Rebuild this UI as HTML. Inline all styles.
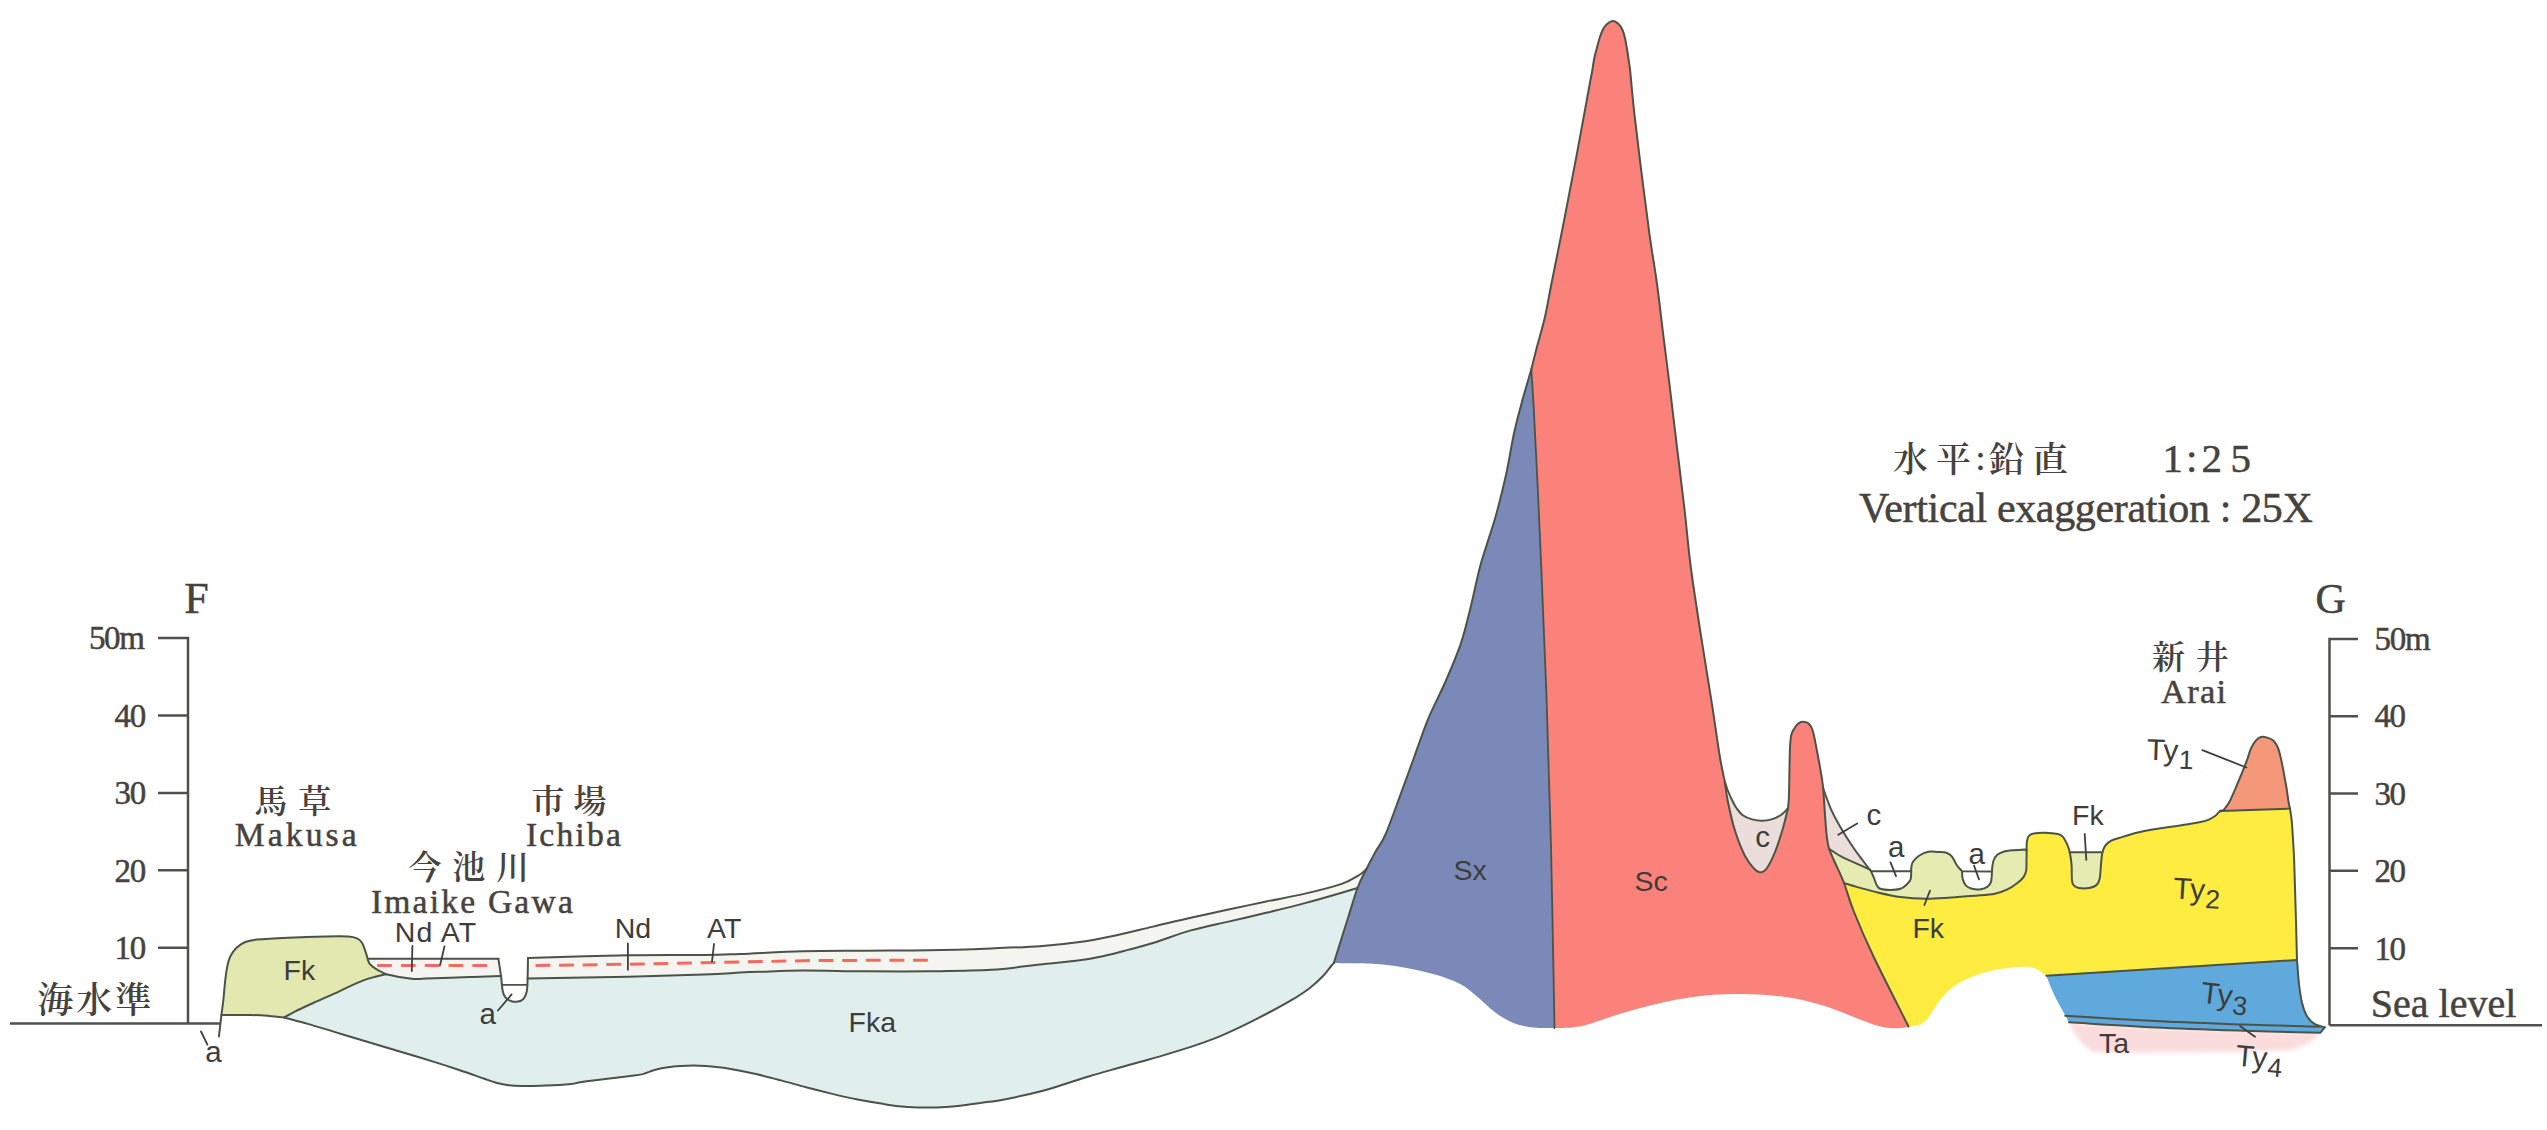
<!DOCTYPE html>
<html lang="ja"><head><meta charset="utf-8"><title>Geological cross-section F–G</title>
<style>html,body{margin:0;padding:0;background:#fff}svg{display:block}</style></head>
<body><svg width="2547" height="1130" viewBox="0 0 2547 1130">
<rect width="2547" height="1130" fill="#fff"/>
<path d="M284.2 1017.5C285.9 1016.6 289.5 1014.3 294.3 1011.9C299.1 1009.5 305.8 1006.4 313.1 1003.0C320.4 999.6 329.9 995.6 338.3 991.8C346.7 988.0 355.4 983.3 363.4 980.4C371.3 977.5 382.2 975.2 386.0 974.2C388.5 974.7 396.4 976.5 401.0 977.3C405.6 978.1 409.5 978.7 413.7 978.9C417.9 979.1 416.8 978.9 426.2 978.6C435.6 978.3 457.5 977.4 470.0 977.0C482.5 976.6 495.8 976.2 501.0 976.0L527.6 978.6C544.4 978.3 599.1 977.4 628.5 976.7C657.9 976.0 685.4 975.3 704.0 974.6C722.6 973.9 730.7 973.1 740.0 972.6C749.3 972.1 749.5 972.1 760.0 971.8C770.5 971.5 785.2 970.7 802.8 970.6C820.4 970.5 844.8 971.2 865.7 971.3C886.7 971.4 907.5 971.5 928.5 971.3C949.5 971.0 972.8 970.9 991.4 969.8C1010.0 968.7 1025.6 966.0 1040.0 964.5C1054.4 963.0 1067.2 962.0 1077.7 960.6C1088.2 959.2 1094.4 958.0 1102.8 956.2C1111.2 954.4 1119.6 952.1 1128.0 949.9C1136.4 947.7 1142.5 946.2 1153.0 943.0C1163.5 939.8 1178.2 934.0 1190.8 930.4C1203.4 926.8 1215.9 924.5 1228.5 921.6C1241.1 918.7 1253.6 915.8 1266.2 912.8C1278.8 909.8 1291.4 906.8 1304.0 903.4C1316.6 900.0 1332.8 895.3 1341.7 892.7C1350.6 890.1 1354.9 888.8 1357.5 888.0C1355.9 893.0 1351.7 906.3 1348.0 918.0C1344.3 929.7 1337.7 950.5 1335.4 958.0C1333.1 965.5 1334.2 962.2 1334.0 963.0C1333.6 963.4 1333.5 963.3 1331.6 965.5C1329.7 967.7 1326.4 972.6 1322.8 976.3C1319.2 980.0 1315.4 983.7 1310.2 987.7C1305.0 991.7 1298.7 995.8 1291.4 1000.2C1284.1 1004.6 1274.6 1009.6 1266.2 1014.0C1257.8 1018.4 1249.5 1022.6 1241.1 1026.6C1232.7 1030.6 1224.4 1034.5 1216.0 1037.9C1207.6 1041.3 1199.2 1044.1 1190.8 1046.9C1182.4 1049.7 1174.1 1052.1 1165.7 1054.6C1157.3 1057.1 1149.0 1059.4 1140.6 1061.8C1132.2 1064.2 1123.8 1066.4 1115.4 1068.8C1107.0 1071.2 1098.7 1073.5 1090.3 1076.0C1081.9 1078.5 1073.5 1081.4 1065.1 1084.0C1056.7 1086.6 1049.9 1089.0 1040.0 1091.5C1030.1 1094.0 1015.5 1097.3 1005.6 1099.2C995.7 1101.1 988.9 1101.8 980.5 1103.0C972.1 1104.2 962.7 1105.5 955.4 1106.2C948.1 1106.9 942.8 1107.2 936.5 1107.4C930.2 1107.6 924.0 1107.6 917.7 1107.4C911.4 1107.2 904.8 1106.8 898.8 1106.2C892.8 1105.6 888.6 1104.8 881.5 1103.6C874.4 1102.4 864.8 1100.9 856.4 1099.2C848.0 1097.5 839.7 1095.6 831.3 1093.6C822.9 1091.6 814.5 1089.5 806.1 1087.3C797.7 1085.1 789.4 1082.6 781.0 1080.4C772.6 1078.2 764.3 1076.0 755.9 1074.1C747.5 1072.2 737.1 1070.2 730.8 1069.1C724.5 1067.9 722.4 1067.7 718.2 1067.2C714.0 1066.7 709.8 1066.3 705.6 1066.0C701.4 1065.7 697.2 1065.6 693.0 1065.6C688.8 1065.6 684.7 1065.7 680.5 1066.0C676.3 1066.3 672.2 1066.6 668.0 1067.2C663.8 1067.8 659.6 1068.6 655.4 1069.7C651.2 1070.8 647.0 1073.0 642.8 1074.1C638.6 1075.1 636.6 1075.2 630.3 1076.0C624.0 1076.8 613.5 1078.0 605.1 1079.1C596.7 1080.1 585.6 1081.5 580.0 1082.3C574.4 1083.1 577.1 1083.4 571.5 1083.9C565.9 1084.4 554.8 1085.1 546.4 1085.4C538.0 1085.8 527.6 1086.0 521.3 1086.0C515.0 1086.0 512.9 1085.8 508.7 1085.2C504.5 1084.7 500.3 1083.8 496.1 1082.7C491.9 1081.6 489.9 1080.7 483.6 1078.5C477.3 1076.3 466.8 1072.5 458.4 1069.7C450.0 1066.9 441.7 1064.2 433.3 1061.6C424.9 1059.0 416.6 1056.5 408.2 1054.0C399.8 1051.5 391.4 1049.0 383.0 1046.5C374.6 1044.0 366.4 1041.5 358.0 1039.0C349.6 1036.5 341.2 1033.9 332.8 1031.4C324.4 1028.9 315.8 1026.2 307.7 1023.9C299.6 1021.6 288.1 1018.6 284.2 1017.5Z" fill="#e0efee" stroke="none" stroke-width="2.0" stroke-linejoin="round" stroke-linecap="round" />
<path d="M368.4 958.7C390.1 958.7 471.8 958.8 498.4 958.7C525.0 958.6 523.1 958.1 528.0 958.0C544.8 957.5 599.2 955.8 628.5 955.3C657.8 954.8 685.4 955.2 704.0 955.0C722.6 954.8 723.5 954.6 740.0 954.0C756.5 953.4 781.8 951.8 802.8 951.3C823.8 950.8 844.8 950.9 865.7 950.7C886.7 950.5 907.5 950.7 928.5 950.3C949.5 949.9 972.8 949.1 991.4 948.4C1010.0 947.7 1025.6 947.2 1040.0 946.2C1054.4 945.2 1065.1 944.1 1077.7 942.3C1090.3 940.5 1102.9 938.0 1115.4 935.4C1128.0 932.8 1140.4 929.5 1153.0 926.6C1165.6 923.7 1178.2 920.6 1190.8 917.8C1203.4 915.0 1215.9 912.3 1228.5 909.6C1241.1 906.9 1253.6 904.1 1266.2 901.5C1278.8 898.9 1291.4 896.8 1304.0 893.9C1316.6 891.0 1332.4 887.1 1341.7 883.9C1351.0 880.7 1355.9 876.9 1360.0 874.5C1364.1 872.1 1365.2 870.2 1366.3 869.3L1357.5 888.0C1354.9 888.8 1350.6 890.1 1341.7 892.7C1332.8 895.3 1316.6 900.0 1304.0 903.4C1291.4 906.8 1278.8 909.8 1266.2 912.8C1253.6 915.8 1241.1 918.7 1228.5 921.6C1215.9 924.5 1203.4 926.8 1190.8 930.4C1178.2 934.0 1163.5 939.8 1153.0 943.0C1142.5 946.2 1136.4 947.7 1128.0 949.9C1119.6 952.1 1111.2 954.4 1102.8 956.2C1094.4 958.0 1088.2 959.2 1077.7 960.6C1067.2 962.0 1054.4 963.0 1040.0 964.5C1025.6 966.0 1010.0 968.7 991.4 969.8C972.8 970.9 949.5 971.0 928.5 971.3C907.5 971.5 886.7 971.4 865.7 971.3C844.8 971.2 820.4 970.5 802.8 970.6C785.2 970.7 770.5 971.5 760.0 971.8C749.5 972.1 749.3 972.1 740.0 972.6C730.7 973.1 722.6 973.9 704.0 974.6C685.4 975.3 657.9 976.0 628.5 976.7C599.1 977.4 544.4 978.3 527.6 978.6L501.0 976.0C495.8 976.2 482.5 976.6 470.0 977.0C457.5 977.4 435.6 978.3 426.2 978.6C416.8 978.9 417.9 979.1 413.7 978.9C409.5 978.7 405.6 978.1 401.0 977.3C396.4 976.5 388.5 974.7 386.0 974.2C384.9 973.7 381.8 972.2 379.7 971.0C377.6 969.8 375.3 968.6 373.5 967.2C371.7 965.8 369.9 964.2 369.0 962.8C368.1 961.4 368.5 959.4 368.4 958.7Z" fill="#f4f5f1" stroke="none" stroke-width="2.0" stroke-linejoin="round" stroke-linecap="round" />
<path d="M497 954L498.4 958.7 L501.0 976.0 L502.6 990.5 L505.4 997.4 L511.6 1001.2 L518.0 1001.6 L523.6 998.7 L526.7 991.8 L527.6 978.6 L528.0 958.0 L529 954Z" fill="#fff"/>
<path d="M221.4 1015.0C221.7 1012.6 222.7 1006.0 223.3 1000.5C223.9 995.0 224.5 987.1 225.1 981.7C225.7 976.3 226.2 972.1 227.0 967.9C227.8 963.7 228.6 960.0 230.2 956.6C231.8 953.2 234.0 950.2 236.5 947.8C239.0 945.4 241.8 943.4 245.2 942.0C248.5 940.6 249.5 940.3 256.6 939.6C263.7 938.9 276.5 938.2 288.0 937.7C299.5 937.2 315.6 936.7 325.7 936.5C335.8 936.3 343.1 936.2 348.3 936.5C353.5 936.8 354.7 937.3 357.0 938.3C359.3 939.3 360.5 940.3 362.0 942.7C363.5 945.1 364.7 949.4 365.9 952.8C367.1 956.1 367.7 960.4 369.0 962.8C370.3 965.2 371.7 965.8 373.5 967.2C375.3 968.6 377.6 969.8 379.7 971.0C381.8 972.2 384.9 973.7 386.0 974.2C382.2 975.2 371.3 977.5 363.4 980.4C355.4 983.3 346.7 988.0 338.3 991.8C329.9 995.6 320.4 999.6 313.1 1003.0C305.8 1006.4 299.1 1009.5 294.3 1011.9C289.5 1014.3 285.9 1016.6 284.2 1017.5C281.7 1017.2 274.6 1016.3 269.0 1015.9C263.4 1015.5 258.2 1015.1 250.3 1015.0C242.4 1014.9 226.2 1015.0 221.4 1015.0Z" fill="#e2e8b0" stroke="none" stroke-width="2.0" stroke-linejoin="round" stroke-linecap="round" />
<path d="M1531.3 369.5C1529.6 375.4 1524.1 393.8 1521.2 404.7C1518.3 415.6 1516.2 423.1 1513.7 434.8C1511.2 446.5 1509.0 461.6 1506.0 475.0C1503.0 488.4 1499.1 504.0 1496.0 515.3C1492.9 526.6 1490.0 534.2 1487.3 543.0C1484.6 551.8 1482.4 557.5 1479.7 568.0C1477.0 578.5 1474.1 593.1 1471.0 605.7C1467.9 618.3 1465.1 630.9 1460.9 643.4C1456.7 655.9 1451.2 668.4 1445.8 681.0C1440.3 693.6 1433.4 706.2 1428.2 718.8C1423.0 731.4 1419.0 743.9 1414.4 756.5C1409.8 769.1 1405.4 781.3 1400.6 794.3C1395.8 807.3 1389.7 824.9 1385.5 834.5C1381.3 844.1 1378.6 846.2 1375.4 852.0C1372.2 857.8 1369.3 863.3 1366.3 869.3C1363.3 875.3 1360.5 879.9 1357.5 888.0C1354.5 896.1 1351.7 906.3 1348.0 918.0C1344.3 929.7 1337.7 950.5 1335.4 958.0C1333.1 965.5 1334.2 962.2 1334.0 963.0C1335.8 963.0 1341.0 963.2 1345.0 963.3C1349.0 963.3 1351.4 963.1 1357.7 963.3C1364.0 963.5 1374.4 963.7 1382.8 964.5C1391.2 965.3 1399.6 966.7 1408.0 968.3C1416.4 969.9 1425.8 972.0 1433.1 974.0C1440.4 976.0 1446.8 978.1 1452.0 980.2C1457.2 982.3 1460.3 983.8 1464.5 986.5C1468.7 989.2 1472.9 993.0 1477.1 996.6C1481.3 1000.2 1485.5 1004.5 1489.7 1007.9C1493.9 1011.3 1498.1 1014.7 1502.3 1017.3C1506.5 1019.9 1510.6 1022.0 1514.8 1023.6C1519.0 1025.2 1523.2 1026.0 1527.4 1026.7C1531.6 1027.4 1535.5 1027.8 1540.0 1028.0C1544.5 1028.2 1552.1 1028.0 1554.5 1028.0C1553.9 997.7 1552.3 901.7 1551.0 846.0C1549.7 790.3 1548.0 740.0 1546.4 693.7C1544.8 647.4 1542.8 602.8 1541.3 568.0C1539.8 533.2 1538.8 511.4 1537.6 485.0C1536.3 458.6 1534.8 428.9 1533.8 409.7C1532.8 390.4 1531.7 376.2 1531.3 369.5Z" fill="#7b89b9" stroke="none" stroke-width="2.0" stroke-linejoin="round" stroke-linecap="round" />
<path d="M1531.3 369.5C1532.1 366.1 1534.0 358.2 1536.3 349.4C1538.6 340.6 1542.5 327.6 1545.0 316.7C1547.5 305.8 1548.2 299.9 1551.4 284.0C1554.6 268.1 1559.8 242.3 1564.0 221.0C1568.2 199.7 1572.3 178.1 1576.5 155.9C1580.7 133.7 1586.4 102.2 1589.0 88.0C1591.6 73.8 1591.4 75.7 1592.2 71.0C1593.0 66.3 1593.3 63.4 1594.0 59.7C1594.7 56.0 1595.6 52.7 1596.6 49.0C1597.5 45.3 1598.7 41.0 1599.7 37.7C1600.8 34.5 1601.8 31.7 1602.9 29.5C1604.1 27.3 1604.9 25.9 1606.6 24.5C1608.3 23.1 1610.9 21.2 1612.9 21.1C1614.9 21.0 1617.0 22.5 1618.6 23.9C1620.2 25.3 1621.2 27.2 1622.3 29.5C1623.3 31.8 1624.1 34.5 1624.9 37.7C1625.7 41.0 1626.4 45.3 1627.0 49.0C1627.6 52.7 1628.1 56.0 1628.6 59.7C1629.1 63.4 1629.7 66.3 1630.2 71.0C1630.7 75.7 1631.1 81.0 1631.8 88.0C1632.5 95.0 1632.6 98.3 1634.3 113.0C1636.0 127.7 1639.4 155.9 1641.9 176.0C1644.4 196.1 1646.9 215.8 1649.4 233.8C1651.9 251.8 1654.7 267.2 1657.0 284.0C1659.3 300.8 1661.1 317.6 1663.2 334.3C1665.3 351.1 1667.2 365.6 1669.5 384.5C1671.8 403.4 1674.5 426.5 1677.0 447.4C1679.5 468.3 1682.3 489.9 1684.6 510.0C1686.9 530.1 1688.0 545.8 1690.9 568.0C1693.8 590.2 1698.6 620.4 1702.2 643.4C1705.8 666.4 1709.4 687.4 1712.3 706.3C1715.2 725.1 1717.7 743.9 1719.8 756.5C1721.9 769.1 1724.0 777.5 1724.8 781.7C1725.3 784.9 1726.0 792.5 1727.7 800.7C1729.4 808.9 1732.1 821.6 1735.0 830.8C1737.9 840.0 1741.8 849.7 1745.0 856.0C1748.2 862.3 1751.5 865.8 1754.0 868.5C1756.5 871.2 1757.9 872.3 1760.0 872.3C1762.1 872.3 1764.0 872.0 1766.6 868.5C1769.2 865.0 1772.7 857.8 1775.4 851.0C1778.1 844.2 1780.9 835.1 1783.0 828.0C1785.1 820.9 1787.2 811.5 1788.0 808.2C1788.2 805.9 1788.6 804.9 1789.0 794.2C1789.4 783.5 1789.4 754.9 1790.2 744.0C1791.0 733.1 1791.9 732.7 1794.0 729.0C1796.1 725.3 1799.9 722.0 1802.8 721.8C1805.7 721.6 1809.3 723.1 1811.6 727.6C1813.9 732.1 1814.9 740.8 1816.6 749.0C1818.3 757.2 1820.5 770.1 1821.6 776.7C1822.7 783.4 1823.0 786.9 1823.3 788.9C1823.5 792.0 1824.0 800.4 1824.5 807.7C1825.0 815.0 1825.7 826.1 1826.4 832.8C1827.1 839.5 1827.6 843.4 1828.9 848.0C1830.2 852.6 1831.5 854.7 1834.0 860.5C1836.5 866.3 1840.7 874.4 1844.0 883.0C1847.3 891.6 1849.1 899.8 1854.0 912.0C1858.9 924.2 1864.4 937.4 1873.5 956.5C1882.6 975.6 1902.7 1014.8 1908.5 1026.5C1907.4 1026.8 1904.9 1027.8 1901.7 1028.0C1898.5 1028.2 1893.3 1028.4 1889.1 1028.0C1884.9 1027.6 1880.7 1026.7 1876.5 1025.5C1872.3 1024.3 1869.2 1023.1 1864.0 1021.1C1858.8 1019.1 1851.4 1015.9 1845.1 1013.5C1838.8 1011.1 1833.5 1008.9 1826.2 1006.6C1818.9 1004.3 1809.5 1001.5 1801.1 999.7C1792.7 997.9 1784.4 996.8 1776.0 995.9C1767.6 995.0 1759.2 994.6 1750.8 994.3C1742.4 994.0 1734.1 994.0 1725.7 994.3C1717.3 994.6 1708.9 995.0 1700.5 995.9C1692.1 996.8 1683.8 998.1 1675.4 999.7C1667.0 1001.3 1658.7 1003.3 1650.3 1005.4C1641.9 1007.5 1633.5 1009.8 1625.1 1012.3C1616.7 1014.8 1606.8 1018.2 1600.0 1020.4C1593.2 1022.6 1588.8 1024.3 1584.0 1025.5C1579.2 1026.7 1576.3 1027.0 1571.4 1027.4C1566.5 1027.8 1557.3 1027.9 1554.5 1028.0C1553.9 997.7 1552.3 901.7 1551.0 846.0C1549.7 790.3 1548.0 740.0 1546.4 693.7C1544.8 647.4 1542.8 602.8 1541.3 568.0C1539.8 533.2 1538.8 511.4 1537.6 485.0C1536.3 458.6 1534.8 428.9 1533.8 409.7C1532.8 390.4 1531.7 376.2 1531.3 369.5Z" fill="#fa827b" stroke="none" stroke-width="2.0" stroke-linejoin="round" stroke-linecap="round" />
<path d="M1724.8 781.7C1725.3 783.2 1726.8 788.0 1728.0 791.0C1729.2 794.0 1730.6 797.2 1732.0 800.0C1733.4 802.8 1734.6 805.5 1736.4 808.0C1738.2 810.5 1740.1 813.4 1742.7 815.3C1745.3 817.2 1749.1 818.5 1752.3 819.4C1755.5 820.3 1758.6 820.7 1761.8 820.7C1765.0 820.7 1768.2 820.4 1771.4 819.4C1774.6 818.4 1778.2 816.9 1781.0 815.0C1783.8 813.1 1786.8 809.3 1788.0 808.2C1787.2 811.5 1785.1 820.9 1783.0 828.0C1780.9 835.1 1778.1 844.2 1775.4 851.0C1772.7 857.8 1769.2 865.0 1766.6 868.5C1764.0 872.0 1762.1 872.3 1760.0 872.3C1757.9 872.3 1756.5 871.2 1754.0 868.5C1751.5 865.8 1748.2 862.3 1745.0 856.0C1741.8 849.7 1737.9 840.0 1735.0 830.8C1732.1 821.6 1729.4 808.9 1727.7 800.7C1726.0 792.5 1725.3 784.9 1724.8 781.7Z" fill="#ebdeda" stroke="none" stroke-width="2.0" stroke-linejoin="round" stroke-linecap="round" />
<path d="M1823.3 788.9C1824.7 792.5 1828.4 803.5 1831.4 810.2C1834.4 816.9 1837.9 822.9 1841.5 829.0C1845.1 835.1 1849.2 841.5 1852.8 846.7C1856.3 852.0 1859.9 856.5 1862.8 860.5C1865.7 864.5 1869.1 868.8 1870.4 870.5L1870.4 869.8C1868.1 868.8 1861.4 865.8 1856.6 863.6C1851.8 861.4 1846.1 859.2 1841.5 856.7C1836.9 854.2 1831.0 850.0 1828.9 848.6C1828.5 846.0 1827.1 839.6 1826.4 832.8C1825.7 826.0 1825.0 815.0 1824.5 807.7C1824.0 800.4 1823.5 792.0 1823.3 788.9Z" fill="#ebdeda" stroke="none" stroke-width="2.0" stroke-linejoin="round" stroke-linecap="round" />
<path d="M1844.0 883.0C1846.1 883.6 1851.4 885.4 1856.6 886.9C1861.8 888.4 1868.1 890.2 1875.4 891.9C1882.7 893.6 1892.1 895.9 1900.5 897.0C1908.9 898.1 1917.3 898.7 1925.7 898.8C1934.1 898.9 1942.4 898.1 1950.8 897.6C1959.2 897.1 1968.7 896.3 1976.0 895.7C1983.3 895.1 1989.6 894.8 1994.8 893.8C2000.0 892.8 2003.6 891.2 2007.4 889.4C2011.2 887.6 2014.7 885.1 2017.4 883.0C2020.1 880.9 2022.2 878.9 2023.7 876.8C2025.2 874.7 2025.7 873.3 2026.2 870.5C2026.7 867.7 2026.4 863.4 2026.5 860.0C2026.6 856.6 2026.6 852.0 2026.6 850.4C2026.6 848.9 2026.5 844.0 2026.9 841.6C2027.3 839.2 2027.7 837.4 2028.8 836.0C2029.9 834.6 2031.1 834.0 2033.8 833.5C2036.5 833.0 2041.0 832.7 2045.0 832.8C2049.0 832.9 2054.8 833.4 2057.7 834.0C2060.6 834.6 2061.2 835.1 2062.7 836.6C2064.2 838.1 2065.3 840.4 2066.5 842.9C2067.7 845.4 2068.8 848.1 2069.6 851.7C2070.4 855.3 2071.1 859.5 2071.5 864.3C2071.9 869.1 2071.6 877.0 2072.0 880.6C2072.4 884.2 2072.8 884.4 2074.0 885.6C2075.2 886.8 2076.5 887.6 2079.0 888.0C2081.5 888.4 2086.1 888.5 2089.0 888.0C2091.9 887.5 2094.8 886.7 2096.6 885.0C2098.4 883.3 2099.1 881.5 2099.8 878.0C2100.5 874.5 2100.6 868.5 2101.0 864.3C2101.4 860.1 2101.6 856.1 2102.3 853.0C2103.0 849.9 2103.8 847.5 2105.4 845.4C2107.0 843.3 2109.4 841.6 2111.7 840.4C2113.9 839.2 2114.6 839.3 2118.9 838.0C2123.2 836.7 2130.4 834.2 2137.7 832.5C2145.0 830.8 2154.4 829.4 2162.8 828.0C2171.2 826.6 2181.7 825.3 2188.0 824.3C2194.3 823.3 2197.0 822.8 2200.6 822.0C2204.2 821.2 2206.9 820.4 2209.4 819.3C2211.9 818.2 2214.0 816.8 2215.7 815.5C2217.4 814.2 2218.1 812.7 2219.4 811.8C2220.8 810.9 2223.1 810.5 2223.8 810.2L2290.0 808.6C2290.3 810.6 2291.2 815.5 2291.7 820.6C2292.2 825.7 2292.6 832.5 2293.0 839.4C2293.4 846.3 2293.7 848.3 2294.2 862.0C2294.7 875.7 2295.5 905.1 2296.0 921.4C2296.5 937.7 2296.8 953.6 2297.0 960.0L2046.3 975.8C2046.0 975.6 2045.9 975.8 2044.7 974.9C2043.5 974.0 2041.2 971.5 2039.0 970.2C2036.8 968.9 2034.6 967.8 2031.5 967.3C2028.4 966.8 2025.2 966.7 2020.2 966.9C2015.2 967.1 2007.7 967.7 2001.4 968.7C1995.1 969.7 1988.8 971.0 1982.5 973.0C1976.2 975.0 1969.2 977.7 1963.7 980.5C1958.2 983.3 1953.5 986.7 1949.5 990.0C1945.5 993.3 1942.7 997.0 1940.0 1000.3C1937.3 1003.6 1935.5 1006.7 1933.5 1009.7C1931.5 1012.7 1929.9 1015.8 1927.9 1018.2C1925.9 1020.6 1923.8 1022.6 1921.3 1023.9C1918.8 1025.2 1914.9 1025.8 1912.8 1026.2C1910.7 1026.6 1909.2 1026.5 1908.5 1026.5C1902.7 1014.8 1882.6 975.6 1873.5 956.5C1864.4 937.4 1858.9 924.2 1854.0 912.0C1849.1 899.8 1845.7 887.8 1844.0 883.0Z" fill="#feec40" stroke="none" stroke-width="2.0" stroke-linejoin="round" stroke-linecap="round" />
<path d="M1828.9 848.6C1831.0 850.0 1836.9 854.2 1841.5 856.7C1846.1 859.2 1851.8 861.4 1856.6 863.6C1861.4 865.8 1868.1 868.8 1870.4 869.8L1871.0 871.2L1911.2 871.2C1911.2 870.5 1911.1 868.6 1911.4 867.0C1911.7 865.4 1911.7 863.7 1913.0 861.8C1914.3 859.9 1916.9 857.2 1919.4 855.5C1921.9 853.8 1925.1 852.3 1928.2 851.7C1931.3 851.1 1935.2 851.8 1938.3 852.0C1941.4 852.2 1944.7 852.2 1947.0 853.0C1949.3 853.8 1950.3 854.6 1952.0 856.7C1953.7 858.8 1955.3 863.1 1957.0 865.5C1958.7 867.9 1961.2 870.2 1962.0 871.2L1992.0 871.6C1992.0 870.8 1992.0 868.9 1992.3 867.0C1992.6 865.1 1992.8 862.5 1993.6 860.5C1994.4 858.5 1995.6 856.3 1997.3 854.8C1999.0 853.3 2000.9 852.5 2003.6 851.7C2006.3 850.9 2009.9 850.6 2013.7 850.2C2017.5 849.8 2024.1 849.5 2026.2 849.4L2026.6 850.4C2026.6 852.0 2026.6 856.6 2026.5 860.0C2026.4 863.4 2026.7 867.7 2026.2 870.5C2025.7 873.3 2025.2 874.7 2023.7 876.8C2022.2 878.9 2020.1 880.9 2017.4 883.0C2014.7 885.1 2011.2 887.6 2007.4 889.4C2003.6 891.2 2000.0 892.8 1994.8 893.8C1989.6 894.8 1983.3 895.1 1976.0 895.7C1968.7 896.3 1959.2 897.1 1950.8 897.6C1942.4 898.1 1934.1 898.9 1925.7 898.8C1917.3 898.7 1908.9 898.1 1900.5 897.0C1892.1 895.9 1882.7 893.6 1875.4 891.9C1868.1 890.2 1861.8 888.4 1856.6 886.9C1851.4 885.4 1846.1 883.6 1844.0 883.0C1842.3 879.2 1836.5 866.2 1834.0 860.5C1831.5 854.8 1829.8 850.6 1828.9 848.6Z" fill="#e6ebb2" stroke="none" stroke-width="2.0" stroke-linejoin="round" stroke-linecap="round" />
<path d="M1871.0 871.2C1871.4 872.1 1872.5 874.5 1873.5 876.8C1874.5 879.1 1875.5 883.0 1876.7 885.0C1877.9 887.0 1878.1 888.0 1880.4 888.8C1882.7 889.6 1887.2 890.0 1890.5 890.0C1893.8 890.0 1897.8 889.7 1900.5 888.8C1903.2 887.9 1905.1 886.0 1906.8 884.4C1908.5 882.8 1909.9 881.6 1910.6 879.4C1911.3 877.2 1911.1 872.6 1911.2 871.2Z" fill="#fff" stroke="none" stroke-width="2.0" stroke-linejoin="round" stroke-linecap="round" />
<path d="M1962.0 871.6C1962.1 872.9 1962.1 877.1 1962.8 879.4C1963.5 881.7 1964.5 884.0 1966.0 885.6C1967.5 887.2 1969.5 888.2 1972.0 888.8C1974.5 889.4 1978.5 889.5 1981.0 889.2C1983.5 888.9 1985.6 888.1 1987.3 886.9C1989.0 885.7 1990.2 884.4 1991.0 881.9C1991.8 879.4 1991.8 873.3 1992.0 871.6Z" fill="#fff" stroke="none" stroke-width="2.0" stroke-linejoin="round" stroke-linecap="round" />
<path d="M2069.6 852.3C2069.9 854.3 2071.1 859.6 2071.5 864.3C2071.9 869.0 2071.6 877.0 2072.0 880.6C2072.4 884.2 2072.8 884.4 2074.0 885.6C2075.2 886.8 2076.5 887.6 2079.0 888.0C2081.5 888.4 2086.1 888.5 2089.0 888.0C2091.9 887.5 2094.8 886.7 2096.6 885.0C2098.4 883.3 2099.1 881.5 2099.8 878.0C2100.5 874.5 2100.6 868.6 2101.0 864.3C2101.4 860.0 2102.1 854.3 2102.3 852.3Z" fill="#e6ebb2" stroke="none" stroke-width="2.0" stroke-linejoin="round" stroke-linecap="round" />
<path d="M2223.8 809.9C2224.8 808.5 2227.5 805.4 2229.5 801.7C2231.5 798.0 2233.6 792.7 2235.7 787.9C2237.8 783.1 2240.1 777.4 2242.0 772.8C2243.9 768.2 2245.5 764.2 2247.0 760.2C2248.5 756.2 2249.4 752.0 2250.8 748.9C2252.2 745.8 2253.5 743.4 2255.2 741.4C2256.9 739.4 2258.9 737.6 2260.9 737.0C2262.9 736.4 2265.1 737.0 2267.2 737.6C2269.3 738.2 2271.7 739.0 2273.5 740.7C2275.3 742.4 2276.7 744.7 2277.9 747.7C2279.2 750.8 2280.0 754.6 2281.0 759.0C2282.0 763.4 2283.1 769.0 2284.0 774.0C2284.9 779.0 2285.9 784.4 2286.7 789.0C2287.4 793.6 2287.9 798.4 2288.5 801.7C2289.1 805.0 2289.8 807.5 2290.0 808.6Z" fill="#f59779" stroke="none" stroke-width="2.0" stroke-linejoin="round" stroke-linecap="round" />
<defs><filter id="soft" x="-5%" y="-30%" width="110%" height="160%"><feGaussianBlur stdDeviation="2.2"/></filter></defs>
<path d="M2069.0 1022.3C2083.4 1023.1 2126.6 1026.0 2155.7 1027.4C2184.8 1028.8 2216.3 1029.8 2243.7 1030.7C2271.1 1031.6 2307.5 1032.5 2320.3 1032.8C2319.2 1033.9 2317.4 1037.0 2314.0 1039.3C2310.6 1041.6 2305.5 1044.9 2300.0 1046.8C2294.5 1048.7 2294.6 1049.8 2281.0 1050.6C2267.4 1051.4 2247.8 1051.6 2218.5 1051.9C2189.2 1052.2 2126.4 1052.9 2105.0 1052.5C2083.6 1052.1 2094.2 1051.4 2090.0 1049.4C2085.8 1047.4 2083.1 1044.1 2080.0 1040.5C2076.9 1036.9 2073.3 1031.0 2071.5 1028.0C2069.7 1025.0 2069.4 1023.2 2069.0 1022.3Z" fill="#fadcdc" stroke="none" stroke-width="2.0" stroke-linejoin="round" stroke-linecap="round" filter="url(#soft)"/>
<path d="M2046.3 975.8L2297.0 960.0C2297.3 964.0 2298.2 976.9 2299.0 984.0C2299.8 991.1 2300.8 997.6 2302.0 1002.8C2303.2 1008.0 2304.5 1011.9 2306.5 1015.4C2308.5 1018.9 2311.0 1021.6 2314.0 1023.6C2317.0 1025.6 2322.9 1026.8 2324.7 1027.4L2320.3 1032.8C2307.5 1032.5 2271.1 1031.6 2243.7 1030.7C2216.3 1029.8 2184.8 1028.8 2155.7 1027.4C2126.6 1026.0 2083.4 1023.1 2069.0 1022.3C2068.4 1021.1 2067.5 1019.7 2065.2 1015.4C2062.9 1011.1 2058.2 1003.2 2055.0 996.6C2051.8 990.0 2047.8 979.3 2046.3 975.8Z" fill="#5fa9dd" stroke="none" stroke-width="2.0" stroke-linejoin="round" stroke-linecap="round" />
<path d="M10 1023.5H220.6M2329.5 1025.3H2542" stroke="#4d524b" stroke-width="2.4" fill="none"/>
<path d="M158 638H188V1023.4M158 715.4H188M158 792.9H188M158 870.3H188M158 947.7H188" stroke="#4d524b" stroke-width="2.5" fill="none"/>
<path d="M2358 639H2329.5V1025.3M2358 716.2H2329.5M2358 793.4H2329.5M2358 870.8H2329.5M2358 948.3H2329.5" stroke="#4d524b" stroke-width="2.5" fill="none"/>
<path d="M218.9 1036.4C219.2 1034.2 220.1 1026.6 220.5 1023.0C220.9 1019.4 221.2 1016.3 221.4 1015.0C221.7 1012.6 222.7 1006.0 223.3 1000.5C223.9 995.0 224.5 987.1 225.1 981.7C225.7 976.3 226.2 972.1 227.0 967.9C227.8 963.7 228.6 960.0 230.2 956.6C231.8 953.2 234.0 950.2 236.5 947.8C239.0 945.4 241.8 943.4 245.2 942.0C248.5 940.6 249.5 940.3 256.6 939.6C263.7 938.9 276.5 938.2 288.0 937.7C299.5 937.2 315.6 936.7 325.7 936.5C335.8 936.3 343.1 936.2 348.3 936.5C353.5 936.8 354.7 937.3 357.0 938.3C359.3 939.3 360.5 940.3 362.0 942.7C363.5 945.1 364.7 949.4 365.9 952.8C367.1 956.1 367.7 960.4 369.0 962.8C370.3 965.2 371.7 965.8 373.5 967.2C375.3 968.6 377.6 969.8 379.7 971.0C381.8 972.2 384.9 973.7 386.0 974.2" fill="none" stroke="#4b5347" stroke-width="2.0" stroke-linejoin="round" stroke-linecap="round" />
<path d="M386.0 974.2C382.2 975.2 371.3 977.5 363.4 980.4C355.4 983.3 346.7 988.0 338.3 991.8C329.9 995.6 320.4 999.6 313.1 1003.0C305.8 1006.4 299.1 1009.5 294.3 1011.9C289.5 1014.3 285.9 1016.6 284.2 1017.5" fill="none" stroke="#4b5347" stroke-width="2.0" stroke-linejoin="round" stroke-linecap="round" />
<path d="M284.2 1017.5C281.7 1017.2 274.6 1016.3 269.0 1015.9C263.4 1015.5 258.2 1015.1 250.3 1015.0C242.4 1014.9 226.2 1015.0 221.4 1015.0" fill="none" stroke="#4b5347" stroke-width="2.0" stroke-linejoin="round" stroke-linecap="round" />
<path d="M368.4 958.7L498.4 958.7" fill="none" stroke="#4b5347" stroke-width="2.0" stroke-linejoin="round" stroke-linecap="round" />
<path d="M498.4 958.7C498.8 961.6 500.3 970.7 501.0 976.0C501.7 981.3 501.9 986.9 502.6 990.5C503.3 994.1 503.9 995.6 505.4 997.4C506.9 999.2 509.5 1000.5 511.6 1001.2C513.7 1001.9 516.0 1002.0 518.0 1001.6C520.0 1001.2 522.1 1000.3 523.6 998.7C525.1 997.1 526.0 995.1 526.7 991.8C527.4 988.4 527.4 984.2 527.6 978.6C527.8 973.0 527.9 961.4 528.0 958.0" fill="none" stroke="#4b5347" stroke-width="2.0" stroke-linejoin="round" stroke-linecap="round" />
<path d="M502.2 984.8L527.4 984.8" fill="none" stroke="#4b5347" stroke-width="1.8" stroke-linejoin="round" stroke-linecap="round" />
<path d="M528.0 958.0C544.8 957.5 599.2 955.8 628.5 955.3C657.8 954.8 685.4 955.2 704.0 955.0C722.6 954.8 723.5 954.6 740.0 954.0C756.5 953.4 781.8 951.8 802.8 951.3C823.8 950.8 844.8 950.9 865.7 950.7C886.7 950.5 907.5 950.7 928.5 950.3C949.5 949.9 972.8 949.1 991.4 948.4C1010.0 947.7 1025.6 947.2 1040.0 946.2C1054.4 945.2 1065.1 944.1 1077.7 942.3C1090.3 940.5 1102.9 938.0 1115.4 935.4C1128.0 932.8 1140.4 929.5 1153.0 926.6C1165.6 923.7 1178.2 920.6 1190.8 917.8C1203.4 915.0 1215.9 912.3 1228.5 909.6C1241.1 906.9 1253.6 904.1 1266.2 901.5C1278.8 898.9 1291.4 896.8 1304.0 893.9C1316.6 891.0 1332.4 887.1 1341.7 883.9C1351.0 880.7 1355.9 876.9 1360.0 874.5C1364.1 872.1 1365.2 870.2 1366.3 869.3" fill="none" stroke="#4b5347" stroke-width="2.0" stroke-linejoin="round" stroke-linecap="round" />
<path d="M386.0 974.2C388.5 974.7 396.4 976.5 401.0 977.3C405.6 978.1 409.5 978.7 413.7 978.9C417.9 979.1 416.8 978.9 426.2 978.6C435.6 978.3 457.5 977.4 470.0 977.0C482.5 976.6 495.8 976.2 501.0 976.0" fill="none" stroke="#4b5347" stroke-width="2.0" stroke-linejoin="round" stroke-linecap="round" />
<path d="M527.6 978.6C544.4 978.3 599.1 977.4 628.5 976.7C657.9 976.0 685.4 975.3 704.0 974.6C722.6 973.9 730.7 973.1 740.0 972.6C749.3 972.1 749.5 972.1 760.0 971.8C770.5 971.5 785.2 970.7 802.8 970.6C820.4 970.5 844.8 971.2 865.7 971.3C886.7 971.4 907.5 971.5 928.5 971.3C949.5 971.0 972.8 970.9 991.4 969.8C1010.0 968.7 1025.6 966.0 1040.0 964.5C1054.4 963.0 1067.2 962.0 1077.7 960.6C1088.2 959.2 1094.4 958.0 1102.8 956.2C1111.2 954.4 1119.6 952.1 1128.0 949.9C1136.4 947.7 1142.5 946.2 1153.0 943.0C1163.5 939.8 1178.2 934.0 1190.8 930.4C1203.4 926.8 1215.9 924.5 1228.5 921.6C1241.1 918.7 1253.6 915.8 1266.2 912.8C1278.8 909.8 1291.4 906.8 1304.0 903.4C1316.6 900.0 1332.8 895.3 1341.7 892.7C1350.6 890.1 1354.9 888.8 1357.5 888.0" fill="none" stroke="#4b5347" stroke-width="2.0" stroke-linejoin="round" stroke-linecap="round" />
<path d="M1334.0 963.0C1333.6 963.4 1333.5 963.3 1331.6 965.5C1329.7 967.7 1326.4 972.6 1322.8 976.3C1319.2 980.0 1315.4 983.7 1310.2 987.7C1305.0 991.7 1298.7 995.8 1291.4 1000.2C1284.1 1004.6 1274.6 1009.6 1266.2 1014.0C1257.8 1018.4 1249.5 1022.6 1241.1 1026.6C1232.7 1030.6 1224.4 1034.5 1216.0 1037.9C1207.6 1041.3 1199.2 1044.1 1190.8 1046.9C1182.4 1049.7 1174.1 1052.1 1165.7 1054.6C1157.3 1057.1 1149.0 1059.4 1140.6 1061.8C1132.2 1064.2 1123.8 1066.4 1115.4 1068.8C1107.0 1071.2 1098.7 1073.5 1090.3 1076.0C1081.9 1078.5 1073.5 1081.4 1065.1 1084.0C1056.7 1086.6 1049.9 1089.0 1040.0 1091.5C1030.1 1094.0 1015.5 1097.3 1005.6 1099.2C995.7 1101.1 988.9 1101.8 980.5 1103.0C972.1 1104.2 962.7 1105.5 955.4 1106.2C948.1 1106.9 942.8 1107.2 936.5 1107.4C930.2 1107.6 924.0 1107.6 917.7 1107.4C911.4 1107.2 904.8 1106.8 898.8 1106.2C892.8 1105.6 888.6 1104.8 881.5 1103.6C874.4 1102.4 864.8 1100.9 856.4 1099.2C848.0 1097.5 839.7 1095.6 831.3 1093.6C822.9 1091.6 814.5 1089.5 806.1 1087.3C797.7 1085.1 789.4 1082.6 781.0 1080.4C772.6 1078.2 764.3 1076.0 755.9 1074.1C747.5 1072.2 737.1 1070.2 730.8 1069.1C724.5 1067.9 722.4 1067.7 718.2 1067.2C714.0 1066.7 709.8 1066.3 705.6 1066.0C701.4 1065.7 697.2 1065.6 693.0 1065.6C688.8 1065.6 684.7 1065.7 680.5 1066.0C676.3 1066.3 672.2 1066.6 668.0 1067.2C663.8 1067.8 659.6 1068.6 655.4 1069.7C651.2 1070.8 647.0 1073.0 642.8 1074.1C638.6 1075.1 636.6 1075.2 630.3 1076.0C624.0 1076.8 613.5 1078.0 605.1 1079.1C596.7 1080.1 585.6 1081.5 580.0 1082.3C574.4 1083.1 577.1 1083.4 571.5 1083.9C565.9 1084.4 554.8 1085.1 546.4 1085.4C538.0 1085.8 527.6 1086.0 521.3 1086.0C515.0 1086.0 512.9 1085.8 508.7 1085.2C504.5 1084.7 500.3 1083.8 496.1 1082.7C491.9 1081.6 489.9 1080.7 483.6 1078.5C477.3 1076.3 466.8 1072.5 458.4 1069.7C450.0 1066.9 441.7 1064.2 433.3 1061.6C424.9 1059.0 416.6 1056.5 408.2 1054.0C399.8 1051.5 391.4 1049.0 383.0 1046.5C374.6 1044.0 366.4 1041.5 358.0 1039.0C349.6 1036.5 341.2 1033.9 332.8 1031.4C324.4 1028.9 315.8 1026.2 307.7 1023.9C299.6 1021.6 288.1 1018.6 284.2 1017.5" fill="none" stroke="#4b5347" stroke-width="2.0" stroke-linejoin="round" stroke-linecap="round" />
<path d="M377.2 965.6H488" stroke="#f26a60" stroke-width="3" stroke-dasharray="14.6 9.2" fill="none"/>
<path d="M535.5 965.6L640 964L760 961.6L816 960.5L929 960.2" stroke="#f26a60" stroke-width="3" stroke-dasharray="14.8 8.8" fill="none"/>
<path d="M1531.3 369.5C1529.6 375.4 1524.1 393.8 1521.2 404.7C1518.3 415.6 1516.2 423.1 1513.7 434.8C1511.2 446.5 1509.0 461.6 1506.0 475.0C1503.0 488.4 1499.1 504.0 1496.0 515.3C1492.9 526.6 1490.0 534.2 1487.3 543.0C1484.6 551.8 1482.4 557.5 1479.7 568.0C1477.0 578.5 1474.1 593.1 1471.0 605.7C1467.9 618.3 1465.1 630.9 1460.9 643.4C1456.7 655.9 1451.2 668.4 1445.8 681.0C1440.3 693.6 1433.4 706.2 1428.2 718.8C1423.0 731.4 1419.0 743.9 1414.4 756.5C1409.8 769.1 1405.4 781.3 1400.6 794.3C1395.8 807.3 1389.7 824.9 1385.5 834.5C1381.3 844.1 1378.6 846.2 1375.4 852.0C1372.2 857.8 1369.3 863.3 1366.3 869.3C1363.3 875.3 1360.5 879.9 1357.5 888.0C1354.5 896.1 1351.7 906.3 1348.0 918.0C1344.3 929.7 1337.7 950.5 1335.4 958.0C1333.1 965.5 1334.2 962.2 1334.0 963.0" fill="none" stroke="#4b5347" stroke-width="2.0" stroke-linejoin="round" stroke-linecap="round" />
<path d="M1554.5 1028.0C1553.9 997.7 1552.3 901.7 1551.0 846.0C1549.7 790.3 1548.0 740.0 1546.4 693.7C1544.8 647.4 1542.8 602.8 1541.3 568.0C1539.8 533.2 1538.8 511.4 1537.6 485.0C1536.3 458.6 1534.8 428.9 1533.8 409.7C1532.8 390.4 1531.7 376.2 1531.3 369.5" fill="none" stroke="#4b5347" stroke-width="1.8" stroke-linejoin="round" stroke-linecap="round" />
<path d="M1531.3 369.5C1532.1 366.1 1534.0 358.2 1536.3 349.4C1538.6 340.6 1542.5 327.6 1545.0 316.7C1547.5 305.8 1548.2 299.9 1551.4 284.0C1554.6 268.1 1559.8 242.3 1564.0 221.0C1568.2 199.7 1572.3 178.1 1576.5 155.9C1580.7 133.7 1586.4 102.2 1589.0 88.0C1591.6 73.8 1591.4 75.7 1592.2 71.0C1593.0 66.3 1593.3 63.4 1594.0 59.7C1594.7 56.0 1595.6 52.7 1596.6 49.0C1597.5 45.3 1598.7 41.0 1599.7 37.7C1600.8 34.5 1601.8 31.7 1602.9 29.5C1604.1 27.3 1604.9 25.9 1606.6 24.5C1608.3 23.1 1610.9 21.2 1612.9 21.1C1614.9 21.0 1617.0 22.5 1618.6 23.9C1620.2 25.3 1621.2 27.2 1622.3 29.5C1623.3 31.8 1624.1 34.5 1624.9 37.7C1625.7 41.0 1626.4 45.3 1627.0 49.0C1627.6 52.7 1628.1 56.0 1628.6 59.7C1629.1 63.4 1629.7 66.3 1630.2 71.0C1630.7 75.7 1631.1 81.0 1631.8 88.0C1632.5 95.0 1632.6 98.3 1634.3 113.0C1636.0 127.7 1639.4 155.9 1641.9 176.0C1644.4 196.1 1646.9 215.8 1649.4 233.8C1651.9 251.8 1654.7 267.2 1657.0 284.0C1659.3 300.8 1661.1 317.6 1663.2 334.3C1665.3 351.1 1667.2 365.6 1669.5 384.5C1671.8 403.4 1674.5 426.5 1677.0 447.4C1679.5 468.3 1682.3 489.9 1684.6 510.0C1686.9 530.1 1688.0 545.8 1690.9 568.0C1693.8 590.2 1698.6 620.4 1702.2 643.4C1705.8 666.4 1709.4 687.4 1712.3 706.3C1715.2 725.1 1717.7 743.9 1719.8 756.5C1721.9 769.1 1724.0 777.5 1724.8 781.7C1725.3 784.9 1726.0 792.5 1727.7 800.7C1729.4 808.9 1732.1 821.6 1735.0 830.8C1737.9 840.0 1741.8 849.7 1745.0 856.0C1748.2 862.3 1751.5 865.8 1754.0 868.5C1756.5 871.2 1757.9 872.3 1760.0 872.3C1762.1 872.3 1764.0 872.0 1766.6 868.5C1769.2 865.0 1772.7 857.8 1775.4 851.0C1778.1 844.2 1780.9 835.1 1783.0 828.0C1785.1 820.9 1787.2 811.5 1788.0 808.2C1788.2 805.9 1788.6 804.9 1789.0 794.2C1789.4 783.5 1789.4 754.9 1790.2 744.0C1791.0 733.1 1791.9 732.7 1794.0 729.0C1796.1 725.3 1799.9 722.0 1802.8 721.8C1805.7 721.6 1809.3 723.1 1811.6 727.6C1813.9 732.1 1814.9 740.8 1816.6 749.0C1818.3 757.2 1820.5 770.1 1821.6 776.7C1822.7 783.4 1823.0 786.9 1823.3 788.9C1823.5 792.0 1824.0 800.4 1824.5 807.7C1825.0 815.0 1825.7 826.1 1826.4 832.8C1827.1 839.5 1827.6 843.4 1828.9 848.0C1830.2 852.6 1831.5 854.7 1834.0 860.5C1836.5 866.3 1840.7 874.4 1844.0 883.0C1847.3 891.6 1849.1 899.8 1854.0 912.0C1858.9 924.2 1864.4 937.4 1873.5 956.5C1882.6 975.6 1902.7 1014.8 1908.5 1026.5" fill="none" stroke="#4b5347" stroke-width="2.0" stroke-linejoin="round" stroke-linecap="round" />
<path d="M1724.8 781.7C1725.3 783.2 1726.8 788.0 1728.0 791.0C1729.2 794.0 1730.6 797.2 1732.0 800.0C1733.4 802.8 1734.6 805.5 1736.4 808.0C1738.2 810.5 1740.1 813.4 1742.7 815.3C1745.3 817.2 1749.1 818.5 1752.3 819.4C1755.5 820.3 1758.6 820.7 1761.8 820.7C1765.0 820.7 1768.2 820.4 1771.4 819.4C1774.6 818.4 1778.2 816.9 1781.0 815.0C1783.8 813.1 1786.8 809.3 1788.0 808.2" fill="none" stroke="#4b5347" stroke-width="2.0" stroke-linejoin="round" stroke-linecap="round" />
<path d="M1823.3 788.9C1824.7 792.5 1828.4 803.5 1831.4 810.2C1834.4 816.9 1837.9 822.9 1841.5 829.0C1845.1 835.1 1849.2 841.5 1852.8 846.7C1856.3 852.0 1859.9 856.5 1862.8 860.5C1865.7 864.5 1869.1 868.8 1870.4 870.5" fill="none" stroke="#4b5347" stroke-width="2.0" stroke-linejoin="round" stroke-linecap="round" />
<path d="M1828.9 848.6C1831.0 850.0 1836.9 854.2 1841.5 856.7C1846.1 859.2 1851.8 861.4 1856.6 863.6C1861.4 865.8 1868.1 868.8 1870.4 869.8" fill="none" stroke="#4b5347" stroke-width="2.0" stroke-linejoin="round" stroke-linecap="round" />
<path d="M1871.0 871.2L1911.2 871.2C1911.2 870.5 1911.1 868.6 1911.4 867.0C1911.7 865.4 1911.7 863.7 1913.0 861.8C1914.3 859.9 1916.9 857.2 1919.4 855.5C1921.9 853.8 1925.1 852.3 1928.2 851.7C1931.3 851.1 1935.2 851.8 1938.3 852.0C1941.4 852.2 1944.7 852.2 1947.0 853.0C1949.3 853.8 1950.3 854.6 1952.0 856.7C1953.7 858.8 1955.3 863.1 1957.0 865.5C1958.7 867.9 1961.2 870.2 1962.0 871.2L1992.0 871.6C1992.0 870.8 1992.0 868.9 1992.3 867.0C1992.6 865.1 1992.8 862.5 1993.6 860.5C1994.4 858.5 1995.6 856.3 1997.3 854.8C1999.0 853.3 2000.9 852.5 2003.6 851.7C2006.3 850.9 2009.9 850.6 2013.7 850.2C2017.5 849.8 2024.1 849.5 2026.2 849.4L2026.6 850.4" fill="none" stroke="#4b5347" stroke-width="2.0" stroke-linejoin="round" stroke-linecap="round" />
<path d="M1871.0 871.2C1871.4 872.1 1872.5 874.5 1873.5 876.8C1874.5 879.1 1875.5 883.0 1876.7 885.0C1877.9 887.0 1878.1 888.0 1880.4 888.8C1882.7 889.6 1887.2 890.0 1890.5 890.0C1893.8 890.0 1897.8 889.7 1900.5 888.8C1903.2 887.9 1905.1 886.0 1906.8 884.4C1908.5 882.8 1909.9 881.6 1910.6 879.4C1911.3 877.2 1911.1 872.6 1911.2 871.2" fill="none" stroke="#4b5347" stroke-width="2.0" stroke-linejoin="round" stroke-linecap="round" />
<path d="M1962.0 871.6C1962.1 872.9 1962.1 877.1 1962.8 879.4C1963.5 881.7 1964.5 884.0 1966.0 885.6C1967.5 887.2 1969.5 888.2 1972.0 888.8C1974.5 889.4 1978.5 889.5 1981.0 889.2C1983.5 888.9 1985.6 888.1 1987.3 886.9C1989.0 885.7 1990.2 884.4 1991.0 881.9C1991.8 879.4 1991.8 873.3 1992.0 871.6" fill="none" stroke="#4b5347" stroke-width="2.0" stroke-linejoin="round" stroke-linecap="round" />
<path d="M2026.6 850.4C2026.6 852.0 2026.6 856.6 2026.5 860.0C2026.4 863.4 2026.7 867.7 2026.2 870.5C2025.7 873.3 2025.2 874.7 2023.7 876.8C2022.2 878.9 2020.1 880.9 2017.4 883.0C2014.7 885.1 2011.2 887.6 2007.4 889.4C2003.6 891.2 2000.0 892.8 1994.8 893.8C1989.6 894.8 1983.3 895.1 1976.0 895.7C1968.7 896.3 1959.2 897.1 1950.8 897.6C1942.4 898.1 1934.1 898.9 1925.7 898.8C1917.3 898.7 1908.9 898.1 1900.5 897.0C1892.1 895.9 1882.7 893.6 1875.4 891.9C1868.1 890.2 1861.8 888.4 1856.6 886.9C1851.4 885.4 1846.1 883.6 1844.0 883.0" fill="none" stroke="#4b5347" stroke-width="2.0" stroke-linejoin="round" stroke-linecap="round" />
<path d="M2026.6 850.4C2026.6 848.9 2026.5 844.0 2026.9 841.6C2027.3 839.2 2027.7 837.4 2028.8 836.0C2029.9 834.6 2031.1 834.0 2033.8 833.5C2036.5 833.0 2041.0 832.7 2045.0 832.8C2049.0 832.9 2054.8 833.4 2057.7 834.0C2060.6 834.6 2061.2 835.1 2062.7 836.6C2064.2 838.1 2065.3 840.4 2066.5 842.9C2067.7 845.4 2068.8 848.1 2069.6 851.7C2070.4 855.3 2071.1 859.5 2071.5 864.3C2071.9 869.1 2071.6 877.0 2072.0 880.6C2072.4 884.2 2072.8 884.4 2074.0 885.6C2075.2 886.8 2076.5 887.6 2079.0 888.0C2081.5 888.4 2086.1 888.5 2089.0 888.0C2091.9 887.5 2094.8 886.7 2096.6 885.0C2098.4 883.3 2099.1 881.5 2099.8 878.0C2100.5 874.5 2100.6 868.5 2101.0 864.3C2101.4 860.1 2101.6 856.1 2102.3 853.0C2103.0 849.9 2103.8 847.5 2105.4 845.4C2107.0 843.3 2109.4 841.6 2111.7 840.4C2113.9 839.2 2114.6 839.3 2118.9 838.0C2123.2 836.7 2130.4 834.2 2137.7 832.5C2145.0 830.8 2154.4 829.4 2162.8 828.0C2171.2 826.6 2181.7 825.3 2188.0 824.3C2194.3 823.3 2197.0 822.8 2200.6 822.0C2204.2 821.2 2206.9 820.4 2209.4 819.3C2211.9 818.2 2214.0 816.8 2215.7 815.5C2217.4 814.2 2218.1 812.7 2219.4 811.8C2220.8 810.9 2223.1 810.5 2223.8 810.2L2220.0 811.0" fill="none" stroke="#4b5347" stroke-width="2.0" stroke-linejoin="round" stroke-linecap="round" />
<path d="M2069.8 852.3L2102.3 852.3" fill="none" stroke="#4b5347" stroke-width="2.0" stroke-linejoin="round" stroke-linecap="round" />
<path d="M2220.0 811.0L2290.0 808.6" fill="none" stroke="#4b5347" stroke-width="2.0" stroke-linejoin="round" stroke-linecap="round" />
<path d="M2223.8 809.9C2224.8 808.5 2227.5 805.4 2229.5 801.7C2231.5 798.0 2233.6 792.7 2235.7 787.9C2237.8 783.1 2240.1 777.4 2242.0 772.8C2243.9 768.2 2245.5 764.2 2247.0 760.2C2248.5 756.2 2249.4 752.0 2250.8 748.9C2252.2 745.8 2253.5 743.4 2255.2 741.4C2256.9 739.4 2258.9 737.6 2260.9 737.0C2262.9 736.4 2265.1 737.0 2267.2 737.6C2269.3 738.2 2271.7 739.0 2273.5 740.7C2275.3 742.4 2276.7 744.7 2277.9 747.7C2279.2 750.8 2280.0 754.6 2281.0 759.0C2282.0 763.4 2283.1 769.0 2284.0 774.0C2284.9 779.0 2285.9 784.4 2286.7 789.0C2287.4 793.6 2287.9 798.4 2288.5 801.7C2289.1 805.0 2289.8 807.5 2290.0 808.6" fill="none" stroke="#4b5347" stroke-width="2.0" stroke-linejoin="round" stroke-linecap="round" />
<path d="M2290.0 808.6C2290.3 810.6 2291.2 815.5 2291.7 820.6C2292.2 825.7 2292.6 832.5 2293.0 839.4C2293.4 846.3 2293.7 848.3 2294.2 862.0C2294.7 875.7 2295.5 905.1 2296.0 921.4C2296.5 937.7 2296.8 953.6 2297.0 960.0C2297.3 964.0 2298.2 976.9 2299.0 984.0C2299.8 991.1 2300.8 997.6 2302.0 1002.8C2303.2 1008.0 2304.5 1011.9 2306.5 1015.4C2308.5 1018.9 2311.0 1021.6 2314.0 1023.6C2317.0 1025.6 2322.9 1026.8 2324.7 1027.4" fill="none" stroke="#4b5347" stroke-width="2.0" stroke-linejoin="round" stroke-linecap="round" />
<path d="M2046.3 975.8L2297.0 960.0" fill="none" stroke="#4b5347" stroke-width="2.0" stroke-linejoin="round" stroke-linecap="round" />
<path d="M2065.2 1015.8C2080.3 1016.7 2125.9 1019.5 2155.7 1021.0C2185.4 1022.5 2216.5 1023.5 2243.7 1024.5C2270.9 1025.5 2306.4 1026.3 2319.0 1026.7" fill="none" stroke="#4b5347" stroke-width="2.0" stroke-linejoin="round" stroke-linecap="round" />
<path d="M2069.0 1022.3C2083.4 1023.1 2126.6 1026.0 2155.7 1027.4C2184.8 1028.8 2216.3 1029.8 2243.7 1030.7C2271.1 1031.6 2307.5 1032.5 2320.3 1032.8L2324.7 1027.4" fill="none" stroke="#4b5347" stroke-width="2.0" stroke-linejoin="round" stroke-linecap="round" />
<path d="M201.0 1031.5L207.4 1044.6M497.9 1010.5L511.6 994.4M412.4 945.9L411.8 971.0M444.5 946.5L440.0 965.4M627.9 943.4L627.9 969.8M714.0 944.0L712.0 961.6M1857.2 823.4L1838.3 834.7M1890.5 862.4L1896.0 876.2M1974.0 865.5L1979.0 879.4M2084.7 834.0L2086.3 859.9M1930.0 890.7L1924.4 905.0M2202.4 750.2L2246.4 767.5M2240.0 1026.0L2255.0 1036.8" stroke="#3f403c" stroke-width="1.8" fill="none" stroke-linecap="round"/>
<text x="88.9" y="649.2" font-family="'Liberation Serif','Noto Serif CJK JP','Noto Serif CJK SC',serif" font-size="33" fill="#46433e" letter-spacing="-1.3" stroke="#46433e" stroke-width="0.5" >50m</text>
<text x="114.5" y="726.6999999999999" font-family="'Liberation Serif','Noto Serif CJK JP','Noto Serif CJK SC',serif" font-size="33" fill="#46433e" letter-spacing="-1.2" stroke="#46433e" stroke-width="0.5" >40</text>
<text x="114.5" y="804.1999999999999" font-family="'Liberation Serif','Noto Serif CJK JP','Noto Serif CJK SC',serif" font-size="33" fill="#46433e" letter-spacing="-1.2" stroke="#46433e" stroke-width="0.5" >30</text>
<text x="114.5" y="881.5999999999999" font-family="'Liberation Serif','Noto Serif CJK JP','Noto Serif CJK SC',serif" font-size="33" fill="#46433e" letter-spacing="-1.2" stroke="#46433e" stroke-width="0.5" >20</text>
<text x="114.5" y="959.0" font-family="'Liberation Serif','Noto Serif CJK JP','Noto Serif CJK SC',serif" font-size="33" fill="#46433e" letter-spacing="-1.2" stroke="#46433e" stroke-width="0.5" >10</text>
<text x="2374.6" y="649.8" font-family="'Liberation Serif','Noto Serif CJK JP','Noto Serif CJK SC',serif" font-size="33" fill="#46433e" letter-spacing="-1.3" stroke="#46433e" stroke-width="0.5" >50m</text>
<text x="2374.6" y="727.4000000000001" font-family="'Liberation Serif','Noto Serif CJK JP','Noto Serif CJK SC',serif" font-size="33" fill="#46433e" letter-spacing="-1.6" stroke="#46433e" stroke-width="0.5" >40</text>
<text x="2374.6" y="804.6" font-family="'Liberation Serif','Noto Serif CJK JP','Noto Serif CJK SC',serif" font-size="33" fill="#46433e" letter-spacing="-1.6" stroke="#46433e" stroke-width="0.5" >30</text>
<text x="2374.6" y="882.0" font-family="'Liberation Serif','Noto Serif CJK JP','Noto Serif CJK SC',serif" font-size="33" fill="#46433e" letter-spacing="-1.6" stroke="#46433e" stroke-width="0.5" >20</text>
<text x="2374.6" y="959.5" font-family="'Liberation Serif','Noto Serif CJK JP','Noto Serif CJK SC',serif" font-size="33" fill="#46433e" letter-spacing="-1.6" stroke="#46433e" stroke-width="0.5" >10</text>
<text x="184.3" y="613.4" font-family="'Liberation Serif','Noto Serif CJK JP','Noto Serif CJK SC',serif" font-size="44" fill="#46433e" stroke="#46433e" stroke-width="0.5" >F</text>
<text x="2315.5" y="612.6" font-family="'Liberation Serif','Noto Serif CJK JP','Noto Serif CJK SC',serif" font-size="42" fill="#46433e" stroke="#46433e" stroke-width="0.5" >G</text>
<text x="37.2" y="1012.5" font-family="'Liberation Serif','Noto Serif CJK JP','Noto Serif CJK SC',serif" font-size="36" fill="#46433e" letter-spacing="3" font-weight="600" >海水準</text>
<text x="2370.8" y="1017" font-family="'Liberation Serif','Noto Serif CJK JP','Noto Serif CJK SC',serif" font-size="40" fill="#46433e" stroke="#46433e" stroke-width="0.5" >Sea level</text>
<text x="254.5" y="812.5" font-family="'Liberation Serif','Noto Serif CJK JP','Noto Serif CJK SC',serif" font-size="33" fill="#46433e" letter-spacing="10.7" font-weight="600" >馬草</text>
<text x="234.8" y="846" font-family="'Liberation Serif','Noto Serif CJK JP','Noto Serif CJK SC',serif" font-size="33.6" fill="#46433e" letter-spacing="3.1" stroke="#46433e" stroke-width="0.5" >Makusa</text>
<text x="531.5" y="812.5" font-family="'Liberation Serif','Noto Serif CJK JP','Noto Serif CJK SC',serif" font-size="33" fill="#46433e" letter-spacing="9" font-weight="600" >市場</text>
<text x="525.9" y="846" font-family="'Liberation Serif','Noto Serif CJK JP','Noto Serif CJK SC',serif" font-size="33.6" fill="#46433e" letter-spacing="2.2" stroke="#46433e" stroke-width="0.5" >Ichiba</text>
<text x="408.6" y="879" font-family="'Liberation Serif','Noto Serif CJK JP','Noto Serif CJK SC',serif" font-size="33" fill="#46433e" letter-spacing="10.7" font-weight="600" >今池川</text>
<text x="370.9" y="912.7" font-family="'Liberation Serif','Noto Serif CJK JP','Noto Serif CJK SC',serif" font-size="33.6" fill="#46433e" letter-spacing="2.2" stroke="#46433e" stroke-width="0.5" >Imaike Gawa</text>
<text x="2152" y="668.5" font-family="'Liberation Serif','Noto Serif CJK JP','Noto Serif CJK SC',serif" font-size="33" fill="#46433e" letter-spacing="10.7" font-weight="600" >新井</text>
<text x="2161" y="703.2" font-family="'Liberation Serif','Noto Serif CJK JP','Noto Serif CJK SC',serif" font-size="34.5" fill="#46433e" letter-spacing="1.3" stroke="#46433e" stroke-width="0.5" >Arai</text>
<text x="1893" y="472" font-family="'Liberation Serif','Noto Serif CJK JP','Noto Serif CJK SC',serif" font-size="35" fill="#46433e" letter-spacing="8" font-weight="600" >水平</text>
<text x="1975.5" y="470" font-family="'Liberation Serif','Noto Serif CJK JP','Noto Serif CJK SC',serif" font-size="36" fill="#46433e" stroke="#46433e" stroke-width="0.5" >:</text>
<text x="1989" y="472" font-family="'Liberation Serif','Noto Serif CJK JP','Noto Serif CJK SC',serif" font-size="35" fill="#46433e" letter-spacing="9" font-weight="600" >鉛直</text>
<text x="2162.5 2186 2201.5 2230.5" y="471.6" font-family="'Liberation Serif','Noto Serif CJK JP','Noto Serif CJK SC',serif" font-size="41" fill="#46433e" stroke="#46433e" stroke-width="0.5" >1:25</text>
<text x="1859" y="522" font-family="'Liberation Serif','Noto Serif CJK JP','Noto Serif CJK SC',serif" font-size="42" fill="#46433e" textLength="453.8" lengthAdjust="spacing" stroke="#46433e" stroke-width="0.5" >Vertical exaggeration : 25X</text>
<text x="283.6" y="980.4" font-family="'Liberation Sans','Noto Sans CJK JP',sans-serif" font-size="28.5" fill="#3d3d3b" >Fk</text>
<text x="394.8" y="942.2" font-family="'Liberation Sans','Noto Sans CJK JP',sans-serif" font-size="28.5" fill="#3d3d3b" letter-spacing="1.1" >Nd AT</text>
<text x="614.7" y="937.9" font-family="'Liberation Sans','Noto Sans CJK JP',sans-serif" font-size="28.5" fill="#3d3d3b" >Nd</text>
<text x="707" y="938.1" font-family="'Liberation Sans','Noto Sans CJK JP',sans-serif" font-size="28.5" fill="#3d3d3b" >AT</text>
<text x="205.2" y="1062" font-family="'Liberation Sans','Noto Sans CJK JP',sans-serif" font-size="29.5" fill="#3d3d3b" >a</text>
<text x="479.6" y="1023.8" font-family="'Liberation Sans','Noto Sans CJK JP',sans-serif" font-size="29.5" fill="#3d3d3b" >a</text>
<text x="848.6" y="1032" font-family="'Liberation Sans','Noto Sans CJK JP',sans-serif" font-size="28.5" fill="#3d3d3b" >Fka</text>
<text x="1453.5" y="880" font-family="'Liberation Sans','Noto Sans CJK JP',sans-serif" font-size="28.5" fill="#3d3d3b" >Sx</text>
<text x="1634.4" y="891" font-family="'Liberation Sans','Noto Sans CJK JP',sans-serif" font-size="28.5" fill="#3d3d3b" >Sc</text>
<text x="1755.3" y="847.2" font-family="'Liberation Sans','Noto Sans CJK JP',sans-serif" font-size="29.5" fill="#3d3d3b" >c</text>
<text x="1866.6" y="825.2" font-family="'Liberation Sans','Noto Sans CJK JP',sans-serif" font-size="29.5" fill="#3d3d3b" >c</text>
<text x="1888" y="856.7" font-family="'Liberation Sans','Noto Sans CJK JP',sans-serif" font-size="29.5" fill="#3d3d3b" >a</text>
<text x="1968.4" y="863.6" font-family="'Liberation Sans','Noto Sans CJK JP',sans-serif" font-size="29.5" fill="#3d3d3b" >a</text>
<text x="2072" y="825.3" font-family="'Liberation Sans','Noto Sans CJK JP',sans-serif" font-size="28.5" fill="#3d3d3b" >Fk</text>
<text x="1912.4" y="937.7" font-family="'Liberation Sans','Noto Sans CJK JP',sans-serif" font-size="28.5" fill="#3d3d3b" >Fk</text>
<text x="2099" y="1052.5" font-family="'Liberation Sans','Noto Sans CJK JP',sans-serif" font-size="28.5" fill="#3d3d3b" >Ta</text>
<text x="2146.4" y="759.7" font-family="'Liberation Sans','Noto Sans CJK JP',sans-serif" font-size="30" fill="#3d3d3b" transform="rotate(2 2146.4 759.7)">Ty<tspan dx="0.8" dy="7.8" font-size="26.5">1</tspan></text>
<text x="2172.8" y="898.2" font-family="'Liberation Sans','Noto Sans CJK JP',sans-serif" font-size="30" fill="#3d3d3b" transform="rotate(3.5 2172.8 898.2)">Ty<tspan dx="0.8" dy="7.8" font-size="26.5">2</tspan></text>
<text x="2200" y="1002.6" font-family="'Liberation Sans','Noto Sans CJK JP',sans-serif" font-size="30" fill="#3d3d3b" transform="rotate(6.5 2200 1002.6)">Ty<tspan dx="0.8" dy="7.8" font-size="26.5">3</tspan></text>
<text x="2235" y="1065.5" font-family="'Liberation Sans','Noto Sans CJK JP',sans-serif" font-size="30" fill="#3d3d3b" transform="rotate(5 2235 1065.5)">Ty<tspan dx="0.8" dy="7.8" font-size="26.5">4</tspan></text>
</svg></body></html>
